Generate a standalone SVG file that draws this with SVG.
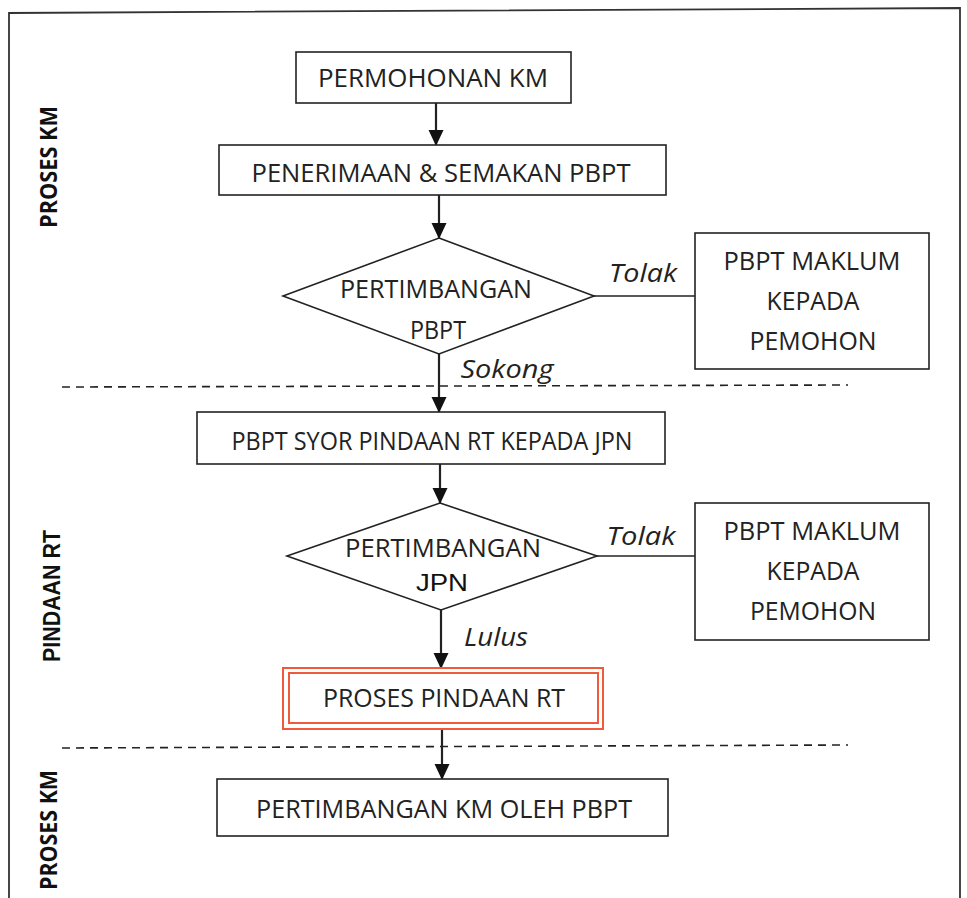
<svg xmlns="http://www.w3.org/2000/svg" width="967" height="898" viewBox="0 0 967 898">
<defs>
<style>
.box{fill:#fff;stroke:#222;stroke-width:1.6}
.red{fill:none;stroke:#EE5A3A;stroke-width:2}
.ln{fill:none;stroke:#222;stroke-width:2.2}
.thin{fill:none;stroke:#222;stroke-width:1.6}
.dash{fill:none;stroke:#222;stroke-width:1.6;stroke-dasharray:8 6}
.t{font-family:"Open Sans","Noto Sans","Liberation Sans",sans-serif;font-size:25px;fill:#222;text-anchor:middle}
.it{font-family:"Open Sans","Noto Sans","Liberation Sans",sans-serif;font-size:25px;font-style:italic;fill:#222;text-anchor:middle}
.side{font-family:"Open Sans","Liberation Sans",sans-serif;font-size:23px;font-weight:bold;fill:#111;text-anchor:middle}
.side2{font-family:"Liberation Sans",Arial,sans-serif;font-size:23px;font-weight:bold;fill:#111;text-anchor:middle}
.arial{font-family:"Liberation Sans",Arial,sans-serif;font-size:23px;fill:#111;text-anchor:middle}
</style>
<marker id="ah" markerWidth="16" markerHeight="18" refX="15" refY="7.5" orient="auto" markerUnits="userSpaceOnUse" viewBox="0 0 16 15">
<path d="M0,0 L16,7.5 L0,15 Z" fill="#111"/>
</marker>
</defs>
<rect width="967" height="898" fill="#fff"/>
<g id="frame">
<path d="M9,898 L9,13 L960,8 L960,898" fill="none" stroke="#333" stroke-width="1.8"/>
</g>
<g id="lanes">
<text class="side" transform="translate(57,167) rotate(-90)" textLength="122" lengthAdjust="spacingAndGlyphs">PROSES KM</text>
<text class="side2" transform="translate(60,596) rotate(-90)" textLength="132" lengthAdjust="spacingAndGlyphs">PINDAAN RT</text>
<text class="side" transform="translate(57,830) rotate(-90)" textLength="120" lengthAdjust="spacingAndGlyphs">PROSES KM</text>
<line class="dash" x1="62" y1="387" x2="848" y2="385"/>
<line class="dash" x1="62" y1="748" x2="848" y2="745"/>
</g>
<g id="connectors">
<line class="ln" x1="436" y1="103" x2="436" y2="145" marker-end="url(#ah)"/>
<line class="ln" x1="439" y1="195" x2="439" y2="238" marker-end="url(#ah)"/>
<line class="ln" x1="439" y1="354" x2="439" y2="412" marker-end="url(#ah)"/>
<line class="ln" x1="440" y1="464" x2="440" y2="503" marker-end="url(#ah)"/>
<line class="ln" x1="441" y1="610" x2="441" y2="668" marker-end="url(#ah)"/>
<line class="ln" x1="442" y1="729" x2="442" y2="779" marker-end="url(#ah)"/>
<line class="thin" x1="594" y1="296" x2="695" y2="296"/>
<line class="thin" x1="597" y1="556" x2="695" y2="556"/>
<text class="it" x="643" y="282" textLength="68" lengthAdjust="spacingAndGlyphs">Tolak</text>
<text class="it" x="507" y="378" textLength="93" lengthAdjust="spacingAndGlyphs">Sokong</text>
<text class="it" x="641" y="545" textLength="69" lengthAdjust="spacingAndGlyphs">Tolak</text>
<text class="it" x="496" y="646" textLength="64" lengthAdjust="spacingAndGlyphs">Lulus</text>
</g>
<g id="n1">
<rect class="box" x="296" y="52" width="275" height="51"/>
<text class="t" x="433" y="87" textLength="230" lengthAdjust="spacingAndGlyphs">PERMOHONAN KM</text>
</g>
<g id="n2">
<rect class="box" x="219" y="145" width="447" height="50"/>
<text class="t" x="441" y="182" textLength="379" lengthAdjust="spacingAndGlyphs">PENERIMAAN &amp; SEMAKAN PBPT</text>
</g>
<g id="d1">
<polygon class="box" points="439,238 594,296 439,354 283,296"/>
<text class="t" x="436" y="298" textLength="192" lengthAdjust="spacingAndGlyphs">PERTIMBANGAN</text>
<text class="t" x="438" y="339" textLength="56" lengthAdjust="spacingAndGlyphs">PBPT</text>
</g>
<g id="r1">
<rect class="box" x="695" y="233" width="234" height="136"/>
<text class="t" x="812" y="270" textLength="177" lengthAdjust="spacingAndGlyphs">PBPT MAKLUM</text>
<text class="t" x="813" y="310" textLength="93" lengthAdjust="spacingAndGlyphs">KEPADA</text>
<text class="t" x="813" y="350" textLength="127" lengthAdjust="spacingAndGlyphs">PEMOHON</text>
</g>
<g id="n3">
<rect class="box" x="197" y="412" width="468" height="52"/>
<text class="t" x="432" y="450" textLength="401" lengthAdjust="spacingAndGlyphs">PBPT SYOR PINDAAN RT KEPADA JPN</text>
</g>
<g id="d2">
<polygon class="box" points="440,503 597,556 441,610 287,556"/>
<text class="t" x="443" y="557" textLength="196" lengthAdjust="spacingAndGlyphs">PERTIMBANGAN</text>
<text class="arial" x="442" y="591" textLength="52" lengthAdjust="spacingAndGlyphs">JPN</text>
</g>
<g id="r2">
<rect class="box" x="695" y="503" width="234" height="137"/>
<text class="t" x="812" y="540" textLength="177" lengthAdjust="spacingAndGlyphs">PBPT MAKLUM</text>
<text class="t" x="813" y="580" textLength="93" lengthAdjust="spacingAndGlyphs">KEPADA</text>
<text class="t" x="813" y="620" textLength="126" lengthAdjust="spacingAndGlyphs">PEMOHON</text>
</g>
<g id="n4">
<rect class="red" x="283" y="668" width="320" height="61"/>
<rect class="red" x="289" y="673" width="309" height="50"/>
<text class="t" x="444" y="707" textLength="242" lengthAdjust="spacingAndGlyphs">PROSES PINDAAN RT</text>
</g>
<g id="n5">
<rect class="box" x="217" y="779" width="451" height="57"/>
<text class="t" x="444" y="818" textLength="376" lengthAdjust="spacingAndGlyphs">PERTIMBANGAN KM OLEH PBPT</text>
</g>
</svg>
